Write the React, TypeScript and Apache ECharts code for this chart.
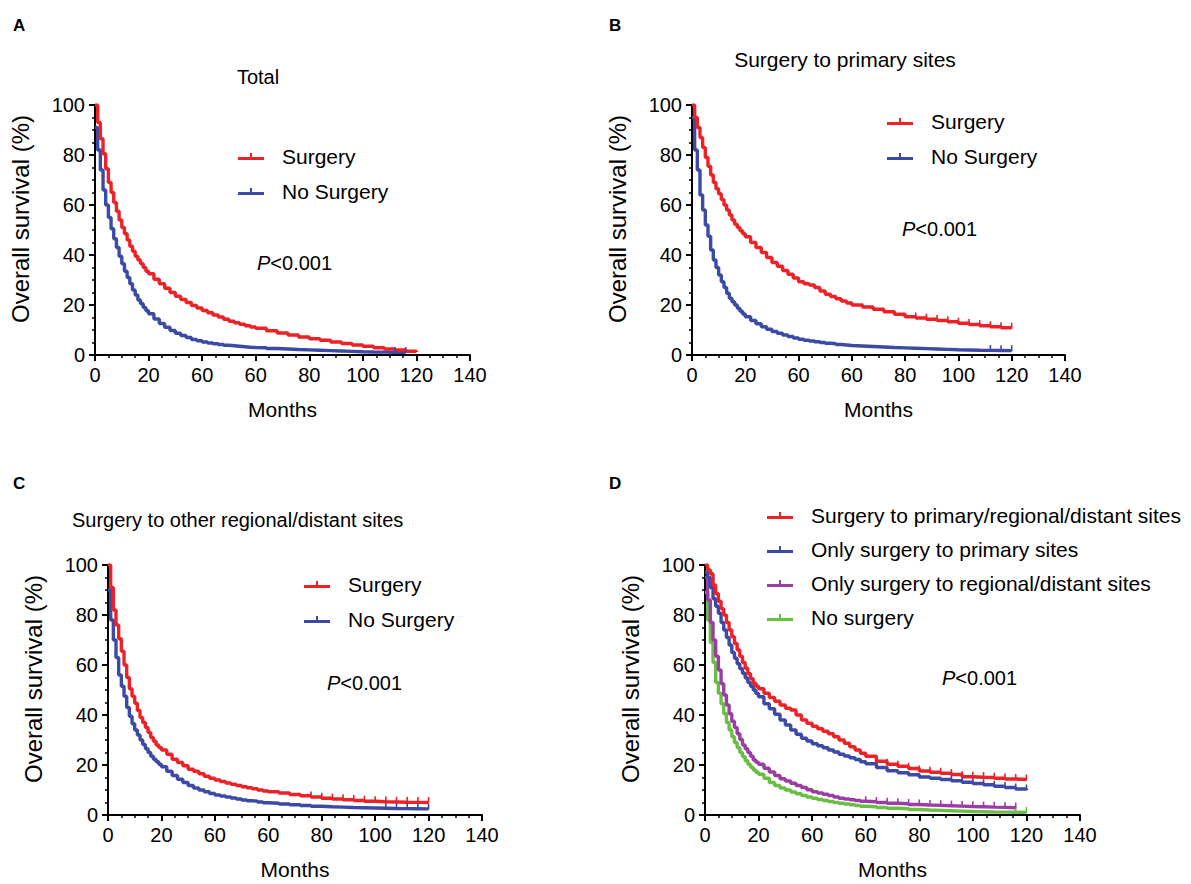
import React, { useEffect, useRef } from "react";
import * as echarts from "echarts";

const FONT = "'Liberation Sans', Arial, Helvetica, sans-serif";
const RED = "#EC2227";
const BLUE = "#3B4AA5";
const PURPLE = "#9B3EA3";
const GREEN = "#6BBE45";

// follow-up time (months)
const months = [
  0, 1, 2, 3, 4, 5, 6, 7, 8, 9, 10, 11, 12, 13, 14, 15, 16, 17, 18, 19, 20,
  22, 24, 26, 28, 30, 32, 34, 36, 38, 40, 42, 44, 46, 48, 50, 52, 54, 56, 58, 60,
  64, 68, 72, 76, 80, 84, 88, 92, 96, 100, 104, 108, 112, 116, 120,
];

// x tick labels as printed in the figure
const xTickLabels = ["0", "20", "60", "60", "80", "100", "120", "140"];

// Panel A – Total
const aSurgery = [
  100, 93, 86.5, 80.5, 74.5, 69, 65, 61, 57.5, 54, 51, 48.5, 46, 43.5, 41.5, 39.5, 38, 36.5, 35, 33.5, 32.5,
  30.3, 28.5, 26.7, 25, 23.5, 22.2, 21, 19.8, 18.8, 17.8, 16.9, 16, 15.2, 14.3, 13.5, 12.9, 12.3, 11.7, 11.2, 10.7,
  9.7, 8.8, 8, 7.2, 6.5, 5.9, 5.2, 4.6, 4, 3.5, 2.9, 2.4, 2, 1.5, 1.2,
];
const aNoSurgery = [
  91, 82, 74, 66, 60, 55, 50.5, 46.5, 43, 39.5, 36.5, 33.5, 31, 28.5, 26, 24, 22, 20.5, 19, 17.7, 16.5,
  14.4, 12.6, 11.1, 9.8, 8.7, 7.8, 7, 6.2, 5.7, 5.2, 4.8, 4.5, 4.2, 3.9, 3.7, 3.5, 3.3, 3.1, 3, 2.9,
  2.6, 2.4, 2.2, 2.05, 1.9, 1.75, 1.6, 1.45, 1.3, 1.2, 1.15, 1.1, 1.05, 1, null,
];

// Panel B – Surgery to primary sites
const bSurgery = [
  100, 95, 91, 87, 83, 79, 75.5, 72, 69, 66.5, 64.5, 62.2, 60, 58, 56, 54, 52.3, 51, 49.7, 48.5, 47.3,
  45, 43, 41, 39, 37, 35.5, 33.8, 32.3, 30.8, 29.3, 28.5, 28, 27, 25.6, 24.3, 23.4, 22.5, 21.6, 20.8, 20,
  19.2, 18.3, 17.3, 16.3, 15.3, 14.8, 14.3, 13.8, 13.3, 12.7, 12.2, 11.7, 11.3, 10.9, 10.7,
];
const bNoSurgery = [
  95, 82, 74, 64, 58, 52, 47.5, 42, 38, 35, 32, 29.3, 27, 24.7, 22.7, 21.3, 20, 18.7, 17.5, 16.4, 15.3,
  13.8, 12.5, 11.3, 10.3, 9.4, 8.7, 8, 7.4, 6.8, 6.3, 5.9, 5.6, 5.3, 5, 4.7, 4.5, 4.2, 4, 3.8, 3.6,
  3.4, 3.2, 3, 2.85, 2.7, 2.55, 2.4, 2.25, 2.1, 2, 1.9, 1.85, 1.8, 1.75, 1.7,
];

// Panel C – Surgery to other regional/distant sites
const cSurgery = [
  100, 91, 82, 76, 70.5, 65.5, 60, 55, 50.5, 47.5, 44.7, 41.8, 39, 37, 35, 33, 31, 29.5, 28, 27, 26,
  24.3, 22.3, 21, 19.7, 18.3, 17.5, 16.5, 15.5, 14.7, 14, 13.4, 12.8, 12.3, 11.8, 11.3, 10.9, 10.5, 10, 9.6, 9.3,
  8.8, 8.2, 7.7, 7.2, 6.7, 6.4, 6.1, 5.8, 5.5, 5.3, 5.2, 5.1, 5.05, 5, 5,
];
const cNoSurgery = [
  90, 78, 70, 63, 56, 51.5, 47.5, 43, 39.5, 36.5, 34, 32, 30, 28.2, 26.5, 25, 23.5, 22.3, 21.3, 20.3, 19.3,
  17.5, 15.8, 14.3, 13, 11.8, 10.8, 10, 9.3, 8.6, 8, 7.6, 7.2, 6.8, 6.4, 6, 5.7, 5.5, 5.2, 4.9, 4.7,
  4.4, 4.1, 3.8, 3.5, 3.3, 3.15, 3, 2.9, 2.8, 2.7, 2.6, 2.55, 2.5, 2.45, 2.4,
];

// Panel D – four groups
const dAllSites = [
  100, 98, 96.5, 92, 88.5, 85.5, 82.5, 80, 77, 74, 71.3, 68.6, 66, 63.5, 61, 58.7, 56.5, 54.5, 52.7, 51.5, 50.5,
  48.7, 47, 45.5, 44, 42.7, 42, 40, 38, 36.7, 35.5, 34.5, 33.5, 32.5, 31.3, 30, 28.7, 27.3, 26, 24.7, 23.5,
  21.5, 20.3, 19.5, 18.6, 17.6, 17.1, 16.7, 16.2, 15.3, 15.1, 15, 14.7, 14.4, 14.2, 14,
];
const dPrimaryOnly = [
  97, 95, 91, 86.5, 83.5, 80.7, 77, 74, 71, 68, 65, 62.7, 60.5, 58.5, 56.7, 54.8, 53, 51.5, 50, 48.6, 47.3,
  44.5, 42.5, 40.3, 38, 36, 34, 32.3, 30.7, 29.6, 28.5, 27.7, 26.9, 26, 25.2, 24.3, 23.6, 22.9, 22.2, 21.3, 20.5,
  19, 17.7, 16.9, 16.1, 15.2, 14.7, 14.2, 13.7, 13.1, 12.6, 12.1, 11.5, 11, 10.4, 10,
];
const dRegionalOnly = [
  95, 86, 77, 70, 63.5, 58, 52.5, 48, 44, 40.5, 37.5, 35, 32.5, 30.2, 28, 26.5, 25, 23.5, 22, 21.1, 20.3,
  18.7, 17.2, 15.8, 14.5, 13.6, 12.7, 11.8, 11, 10.1, 9.3, 8.8, 8.3, 7.8, 7.2, 6.7, 6.4, 6.1, 5.8, 5.5, 5.3,
  5, 4.7, 4.5, 4.2, 4, 3.85, 3.7, 3.55, 3.4, 3.3, 3.15, 3.05, 2.9, 2.8, null,
];
const dNoSurgery = [
  89, 78, 69, 61, 53, 48.7, 44.5, 40.5, 37, 34, 31.3, 29, 27, 25, 23.3, 21.7, 20.3, 19.1, 18, 17.1, 16.3,
  14.7, 13, 11.8, 10.8, 10, 9.2, 8.5, 7.8, 7.2, 6.7, 6.2, 5.8, 5.4, 5, 4.7, 4.4, 4.1, 3.8, 3.5, 3.3,
  3, 2.7, 2.5, 2.2, 2, 1.85, 1.7, 1.55, 1.4, 1.3, 1.2, 1.15, 1.1, 1.05, 1,
];

const grids = [
  { left: 95, top: 105, width: 375, height: 250 },
  { left: 692, top: 105, width: 373, height: 250 },
  { left: 108, top: 565, width: 374, height: 250 },
  { left: 705, top: 565, width: 375, height: 250 },
];

const LEGEND_ICON = "path://M0,5 L26,5 L26,8 L0,8 Z M12,1 L14,1 L14,8 L12,8 Z";

function makeData(vals: (number | null)[], censorFrom: number) {
  const out: any[] = [];
  months.forEach((m, i) => {
    const v = vals[i];
    if (v == null) return;
    if (m >= censorFrom) {
      out.push({ value: [m, v], symbol: "rect", symbolSize: [1.6, 6], symbolOffset: [0, -2.5] });
    } else {
      out.push({ value: [m, v] });
    }
  });
  return out;
}

function km(name: string, vals: (number | null)[], color: string, idx: number, censorFrom = 999) {
  return {
    type: "line",
    name,
    xAxisIndex: idx,
    yAxisIndex: idx,
    step: "end",
    data: makeData(vals, censorFrom),
    symbol: "none",
    showSymbol: true,
    color,
    itemStyle: { color },
    lineStyle: { color, width: 3.4 },
    emphasis: { disabled: true },
  };
}

function buildOption() {
  const xAxis = grids.map((_, i) => ({
    type: "value",
    gridIndex: i,
    min: 0,
    max: 140,
    interval: 20,
    name: "Months",
    nameLocation: "middle",
    nameGap: 44,
    nameTextStyle: { fontSize: 21, color: "#000", fontFamily: FONT },
    axisLine: { show: true, onZero: false, lineStyle: { color: "#000", width: 2 } },
    axisTick: { show: true, length: 6, lineStyle: { color: "#000", width: 2 } },
    minorTick: { show: true, splitNumber: 4, length: 3, lineStyle: { color: "#000", width: 1.5 } },
    axisLabel: {
      color: "#000",
      fontSize: 20,
      fontFamily: FONT,
      margin: 10,
      formatter: (v: number) => xTickLabels[Math.round(v / 20)] ?? "",
    },
    splitLine: { show: false },
  }));
  const yAxis = grids.map((_, i) => ({
    type: "value",
    gridIndex: i,
    min: 0,
    max: 100,
    interval: 20,
    name: "Overall survival (%)",
    nameLocation: "middle",
    nameGap: 63,
    nameTextStyle: { fontSize: 24, color: "#000", fontFamily: FONT, padding: [0, 0, 0, 22] },
    axisLine: { show: true, onZero: false, lineStyle: { color: "#000", width: 2 } },
    axisTick: { show: true, length: 6, lineStyle: { color: "#000", width: 2 } },
    minorTick: { show: true, splitNumber: 4, length: 3, lineStyle: { color: "#000", width: 1.5 } },
    axisLabel: { color: "#000", fontSize: 20, fontFamily: FONT, margin: 10 },
    splitLine: { show: false },
  }));

  const legendBase = {
    orient: "vertical",
    icon: LEGEND_ICON,
    itemWidth: 26,
    itemHeight: 7,
    padding: 0,
    selectedMode: false,
    textStyle: { fontSize: 21, color: "#000", fontFamily: FONT, padding: [0, 0, 0, 13] },
  };

  const txt = (text: string, x: number, y: number, opts: any = {}) => ({
    type: "text",
    x,
    y,
    silent: true,
    style: {
      text,
      fill: "#000",
      fontSize: 20,
      fontFamily: FONT,
      verticalAlign: "middle",
      align: "left",
      ...opts,
    },
  });
  const pText = (x: number, y: number) =>
    txt("{i|P}<0.001", x, y, {
      rich: { i: { fontStyle: "italic", fontSize: 20, fontFamily: FONT, fill: "#000" } },
    });

  return {
    animation: false,
    backgroundColor: "#fff",
    grid: grids.map((g) => ({ ...g, containLabel: false })),
    xAxis,
    yAxis,
    legend: [
      { ...legendBase, left: 238, top: 146, itemGap: 14, data: ["Surgery", "No Surgery"] },
      { ...legendBase, left: 887, top: 111, itemGap: 14, data: ["Surgery", "No Surgery"] },
      { ...legendBase, left: 304, top: 574, itemGap: 14, data: ["Surgery", "No Surgery"] },
      {
        ...legendBase,
        left: 767,
        top: 505,
        itemGap: 13,
        data: [
          "Surgery to primary/regional/distant sites",
          "Only surgery to primary sites",
          "Only surgery to regional/distant sites",
          "No surgery",
        ],
      },
    ],
    graphic: [
      txt("A", 13, 25, { fontWeight: "bold", fontSize: 17 }),
      txt("B", 609, 25, { fontWeight: "bold", fontSize: 17 }),
      txt("C", 13, 483, { fontWeight: "bold", fontSize: 17 }),
      txt("D", 609, 483, { fontWeight: "bold", fontSize: 17 }),
      txt("Total", 258, 77, { align: "center", fontSize: 20 }),
      txt("Surgery to primary sites", 845, 59, { align: "center", fontSize: 21 }),
      txt("Surgery to other regional/distant sites", 72, 520),
      pText(257, 263),
      pText(902, 229),
      pText(327, 683),
      pText(942, 678),
    ],
    series: [
      km("No Surgery", aNoSurgery, BLUE, 0, 112),
      km("Surgery", aSurgery, RED, 0),
      km("No Surgery", bNoSurgery, BLUE, 1, 112),
      km("Surgery", bSurgery, RED, 1, 84),
      km("No Surgery", cNoSurgery, BLUE, 2, 104),
      km("Surgery", cSurgery, RED, 2, 76),
      km("No surgery", dNoSurgery, GREEN, 3, 116),
      km("Only surgery to regional/distant sites", dRegionalOnly, PURPLE, 3, 60),
      km("Only surgery to primary sites", dPrimaryOnly, BLUE, 3, 92),
      km("Surgery to primary/regional/distant sites", dAllSites, RED, 3, 64),
    ],
  };
}

export default function App() {
  const ref = useRef<HTMLDivElement>(null);
  useEffect(() => {
    if (!ref.current) return;
    const chart = echarts.init(ref.current, undefined, { renderer: "svg" });
    chart.setOption(buildOption() as any);
    return () => chart.dispose();
  }, []);
  return (
    <div
      ref={ref}
      style={{ position: "absolute", left: 0, top: 0, width: 1191, height: 884, background: "#fff" }}
    />
  );
}
